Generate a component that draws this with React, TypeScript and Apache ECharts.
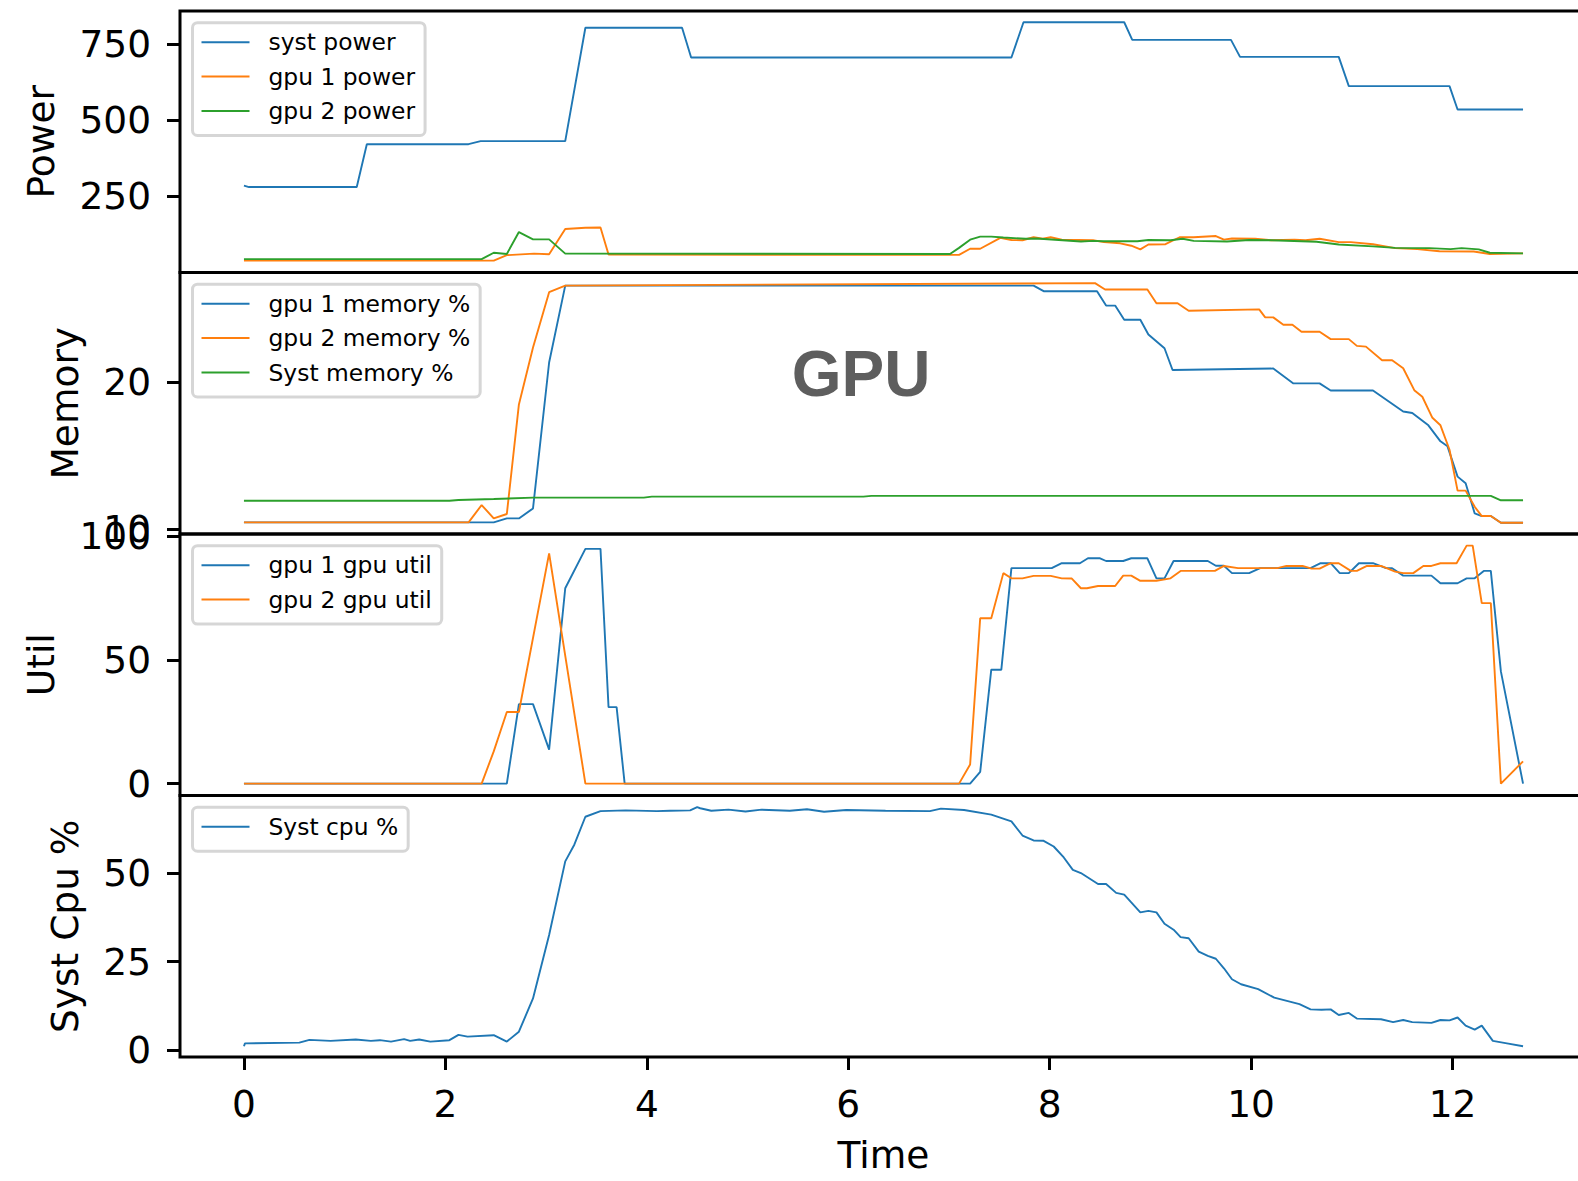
import React, { useEffect, useRef } from "react";
import * as echarts from "echarts";

// ---------- data (time in x-units, value) ----------
const timeTicks = [0, 2, 4, 6, 8, 10, 12];
const powerTicks = [250, 500, 750];
const memoryTicks = [10, 20];
const utilTicks = [0, 50, 100];
const cpuTicks = [0, 25, 50];

const systPower: [number, number][] = [
  [0, 286], [0.05, 281], [1.12, 281], [1.22, 422], [2.23, 422], [2.35, 432], [3.19, 432], [3.39, 805],
  [4.35, 805], [4.44, 707], [7.62, 707], [7.74, 823], [8.74, 823], [8.82, 765], [9.8, 765], [9.89, 709],
  [10.87, 709], [10.97, 613], [11.97, 613], [12.05, 536], [12.7, 536],
];
const gpu1Power: [number, number][] = [
  [0, 39], [2.48, 39], [2.61, 57], [2.88, 62], [3.03, 60], [3.19, 143], [3.39, 147], [3.54, 148], [3.62, 59],
  [7.1, 58], [7.21, 78], [7.31, 78], [7.51, 114], [7.62, 107], [7.73, 106], [7.84, 116], [7.93, 111], [8.01, 116],
  [8.12, 108], [8.43, 106], [8.54, 100], [8.7, 96], [8.81, 88], [8.9, 76], [8.98, 92], [9.15, 93], [9.29, 116],
  [9.43, 116], [9.65, 120], [9.73, 108], [9.81, 112], [10.04, 111], [10.2, 106], [10.43, 108], [10.54, 106],
  [10.68, 111], [10.87, 100], [10.99, 100], [11.21, 93], [11.43, 80], [11.65, 77], [11.87, 70], [12.21, 69],
  [12.37, 61], [12.7, 63],
];
const gpu2Power: [number, number][] = [
  [0, 44], [2.36, 44], [2.48, 65], [2.61, 61], [2.73, 133], [2.87, 109], [3.03, 109], [3.19, 62], [7.01, 61],
  [7.1, 81], [7.21, 108], [7.31, 118], [7.42, 118], [7.54, 115], [7.76, 111], [7.87, 112], [8.09, 107],
  [8.31, 102], [8.43, 104], [8.54, 103], [8.87, 103], [8.98, 107], [9.2, 106], [9.32, 111], [9.43, 104],
  [9.76, 102], [9.98, 107], [10.2, 106], [10.65, 101], [10.87, 92], [11.21, 86], [11.43, 81], [11.77, 80],
  [11.98, 77], [12.09, 80], [12.26, 76], [12.37, 65], [12.7, 63],
];

const gpu1Memory: [number, number][] = [
  [0, 10.46], [2.48, 10.46], [2.61, 10.73], [2.73, 10.73], [2.87, 11.41], [3.03, 21.33], [3.19, 26.56],
  [7.84, 26.56], [7.94, 26.18], [8.47, 26.18], [8.56, 25.2], [8.65, 25.2], [8.74, 24.24], [8.9, 24.24],
  [8.98, 23.24], [9.14, 22.3], [9.22, 20.82], [10.22, 20.92], [10.42, 19.91], [10.68, 19.91], [10.79, 19.43],
  [11.21, 19.43], [11.51, 18.0], [11.6, 17.9], [11.76, 17.06], [11.88, 15.97], [11.95, 15.63], [12.05, 13.57],
  [12.13, 13.12], [12.22, 11.07], [12.29, 10.89], [12.38, 10.89], [12.48, 10.43], [12.7, 10.43],
];
const gpu2Memory: [number, number][] = [
  [0, 10.46], [2.23, 10.46], [2.36, 11.64], [2.48, 10.73], [2.61, 11.03], [2.73, 18.48], [2.87, 22.35],
  [3.03, 26.11], [3.19, 26.56], [8.45, 26.73], [8.55, 26.29], [8.97, 26.29], [9.06, 25.36], [9.27, 25.36],
  [9.38, 24.85], [10.08, 24.94], [10.14, 24.4], [10.22, 24.4], [10.32, 23.9], [10.41, 23.9], [10.5, 23.42],
  [10.68, 23.42], [10.79, 22.92], [10.97, 22.92], [11.05, 22.46], [11.14, 22.41], [11.3, 21.48], [11.4, 21.48],
  [11.51, 20.94], [11.62, 19.45], [11.7, 19.0], [11.8, 17.57], [11.88, 17.06], [11.97, 15.4], [12.05, 12.62],
  [12.13, 12.62], [12.22, 11.52], [12.29, 10.89], [12.38, 10.89], [12.48, 10.43], [12.7, 10.43],
];
const systMemory: [number, number][] = [
  [0, 11.93], [2.04, 11.93], [2.13, 11.98], [2.48, 12.05], [2.87, 12.14], [3.97, 12.14], [4.05, 12.21],
  [6.15, 12.21], [6.23, 12.26], [12.38, 12.26], [12.48, 11.96], [12.7, 11.96],
];

const gpu1Util: [number, number][] = [
  [0, 0], [2.61, 0], [2.73, 32.1], [2.87, 32.1], [3.03, 13.7], [3.19, 78.9], [3.39, 94.8], [3.54, 94.8],
  [3.62, 30.9], [3.7, 30.9], [3.78, 0], [7.21, 0], [7.31, 4.7], [7.42, 46.0], [7.52, 46.0], [7.62, 87.0],
  [8.02, 87.0], [8.12, 89.0], [8.3, 89.0], [8.38, 91.0], [8.5, 91.0], [8.56, 89.9], [8.73, 89.9], [8.81, 91.0],
  [8.97, 91.0], [9.06, 82.9], [9.14, 82.9], [9.23, 89.9], [9.57, 89.9], [9.65, 88.0], [9.73, 88.0], [9.81, 85.0],
  [9.98, 85.0], [10.09, 87.0], [10.59, 87.0], [10.69, 89.0], [10.79, 89.0], [10.88, 85.0], [10.97, 85.0],
  [11.07, 89.0], [11.21, 89.0], [11.34, 87.0], [11.4, 87.0], [11.51, 84.0], [11.79, 84.0], [11.88, 80.9],
  [12.05, 80.9], [12.14, 82.9], [12.22, 82.9], [12.31, 85.9], [12.38, 85.9], [12.48, 45.3], [12.7, 0],
];
const gpu2Util: [number, number][] = [
  [0, 0], [2.36, 0], [2.48, 13.0], [2.61, 28.9], [2.73, 28.9], [3.03, 93.0], [3.39, 0], [7.1, 0], [7.21, 7.7],
  [7.31, 66.8], [7.42, 66.8], [7.54, 85.0], [7.62, 82.9], [7.73, 82.9], [7.84, 83.9], [8.01, 83.9], [8.12, 82.9],
  [8.22, 82.8], [8.31, 78.9], [8.37, 78.9], [8.48, 79.8], [8.65, 79.8], [8.73, 84.0], [8.81, 84.0], [8.9, 81.9],
  [9.06, 81.9], [9.2, 82.9], [9.3, 85.9], [9.64, 85.9], [9.73, 87.9], [9.87, 87.0], [10.26, 87.0], [10.35, 87.9],
  [10.51, 87.9], [10.6, 86.8], [10.68, 86.8], [10.79, 89.0], [10.87, 89.0], [10.99, 85.9], [11.05, 85.9],
  [11.15, 87.9], [11.29, 87.9], [11.43, 85.6], [11.51, 85.0], [11.61, 85.0], [11.71, 87.9], [11.79, 87.9],
  [11.88, 89.0], [12.04, 89.0], [12.14, 96.1], [12.2, 96.1], [12.29, 72.9], [12.38, 72.9], [12.48, 0], [12.7, 9.0],
];

const systCpu: [number, number][] = [
  [0, 1.1], [0.01, 1.9], [0.55, 2.1], [0.65, 2.9], [0.86, 2.6], [1.11, 3.0], [1.26, 2.6], [1.35, 2.8],
  [1.46, 2.4], [1.59, 3.1], [1.65, 2.6], [1.74, 3.0], [1.85, 2.4], [2.04, 2.8], [2.13, 4.3], [2.22, 3.8],
  [2.48, 4.2], [2.61, 2.4], [2.73, 5.2], [2.87, 14.6], [3.03, 32.5], [3.19, 53.3], [3.28, 58.0], [3.39, 65.9],
  [3.54, 67.5], [3.79, 67.7], [4.1, 67.5], [4.23, 67.6], [4.43, 67.7], [4.5, 68.6], [4.53, 68.3], [4.64, 67.6],
  [4.81, 67.9], [4.98, 67.4], [5.14, 67.9], [5.42, 67.6], [5.59, 68.0], [5.76, 67.3], [5.98, 67.8], [6.37, 67.6],
  [6.81, 67.5], [6.92, 68.2], [7.15, 67.8], [7.42, 66.5], [7.62, 64.6], [7.73, 60.6], [7.84, 59.2], [7.94, 59.1],
  [8.04, 57.5], [8.14, 54.4], [8.23, 50.9], [8.31, 50.0], [8.48, 46.9], [8.56, 46.9], [8.66, 44.4], [8.74, 43.9],
  [8.81, 41.7], [8.9, 38.9], [8.98, 39.3], [9.06, 38.9], [9.14, 35.7], [9.23, 34.0], [9.3, 31.9], [9.38, 31.6],
  [9.48, 27.8], [9.57, 26.6], [9.65, 25.8], [9.73, 23.1], [9.81, 20.0], [9.9, 18.6], [10.07, 17.2], [10.23, 14.8],
  [10.48, 13.0], [10.59, 11.5], [10.7, 11.4], [10.79, 11.5], [10.87, 9.9], [10.97, 10.5], [11.05, 8.9],
  [11.29, 8.7], [11.41, 7.9], [11.51, 8.5], [11.6, 7.9], [11.79, 7.7], [11.88, 8.5], [11.97, 8.4], [12.05, 9.2],
  [12.13, 6.9], [12.22, 5.8], [12.29, 6.9], [12.4, 2.6], [12.54, 1.9], [12.7, 1.1],
];

// ---------- styling / layout ----------
const FONT = "DejaVu Sans";
const C_BLUE = "#1f77b4";
const C_ORANGE = "#ff7f0e";
const C_GREEN = "#2ca02c";

const panelTops = [11, 272.5, 534, 795.5];
const panelH = 261.5;
const gridLeft = 180;
const gridWidth = 1407;
const X_MIN = -0.635;
const X_MAX = 13.335;

type Panel = {
  title: string;
  nameGap: number;
  min: number;
  max: number;
  ticks: number[];
  series: { name: string; data: [number, number][]; color: string }[];
};

const panels: Panel[] = [
  {
    title: "Power", nameGap: 120, min: 0, max: 860, ticks: powerTicks,
    series: [
      { name: "syst power", data: systPower, color: C_BLUE },
      { name: "gpu 1 power", data: gpu1Power, color: C_ORANGE },
      { name: "gpu 2 power", data: gpu2Power, color: C_GREEN },
    ],
  },
  {
    title: "Memory", nameGap: 96, min: 9.67, max: 27.45, ticks: memoryTicks,
    series: [
      { name: "gpu 1 memory %", data: gpu1Memory, color: C_BLUE },
      { name: "gpu 2 memory %", data: gpu2Memory, color: C_ORANGE },
      { name: "Syst memory %", data: systMemory, color: C_GREEN },
    ],
  },
  {
    title: "Util", nameGap: 120, min: -4.8, max: 100.8, ticks: utilTicks,
    series: [
      { name: "gpu 1 gpu util", data: gpu1Util, color: C_BLUE },
      { name: "gpu 2 gpu util", data: gpu2Util, color: C_ORANGE },
    ],
  },
  {
    title: "Syst Cpu %", nameGap: 96, min: -1.95, max: 71.9, ticks: cpuTicks,
    series: [{ name: "Syst cpu %", data: systCpu, color: C_BLUE }],
  },
];

function buildOption(): echarts.EChartsOption {
  const last = panels.length - 1;
  const grid = panels.map((_, i) => ({
    left: gridLeft,
    top: panelTops[i],
    width: gridWidth,
    height: panelH,
    show: true,
    borderColor: "#000",
    borderWidth: 3,
    backgroundColor: "transparent",
  }));
  const xAxis = panels.map((_, i) => ({
    gridIndex: i,
    type: "value" as const,
    position: "bottom" as const,
    min: X_MIN,
    max: X_MAX,
    axisLine: { show: false, onZero: false },
    splitLine: { show: false },
    axisTick:
      i === last
        ? { show: true, length: 13, lineStyle: { color: "#000", width: 3 }, customValues: timeTicks }
        : { show: false },
    axisLabel:
      i === last
        ? { show: true, margin: 28, fontSize: 37.5, fontFamily: FONT, color: "#000", customValues: timeTicks }
        : { show: false },
    name: i === last ? "Time" : "",
    nameLocation: "middle" as const,
    nameGap: 79,
    nameTextStyle: { fontSize: 37.5, fontFamily: FONT, color: "#000" },
  }));
  const yAxis = panels.map((p, i) => ({
    gridIndex: i,
    type: "value" as const,
    position: "left" as const,
    min: p.min,
    max: p.max,
    axisLine: { show: false, onZero: false },
    splitLine: { show: false },
    axisTick: { show: true, length: 13, lineStyle: { color: "#000", width: 3 }, customValues: p.ticks },
    axisLabel: { show: true, margin: 29, fontSize: 37.5, fontFamily: FONT, color: "#000", customValues: p.ticks },
    name: p.title,
    nameLocation: "middle" as const,
    nameRotate: 90,
    nameGap: p.nameGap,
    nameTextStyle: { fontSize: 37.5, fontFamily: FONT, color: "#000" },
  }));
  const legend = panels.map((p, i) => ({
    data: p.series.map((s) => s.name),
    orient: "vertical" as const,
    left: 192.5,
    top: panelTops[i] + 11.7,
    icon: "rect",
    itemWidth: 48,
    itemHeight: 2,
    itemGap: 11.4,
    padding: [8, 10, 13, 9],
    backgroundColor: "rgba(255,255,255,0.8)",
    borderColor: "rgba(204,204,204,0.8)",
    borderWidth: 3,
    borderRadius: 5,
    selectedMode: false,
    itemStyle: { borderWidth: 0 },
    textStyle: { fontFamily: FONT, fontSize: 23.4, color: "#000", lineHeight: 21, padding: [0, 0, 0, 14] },
  }));
  const series: any[] = [];
  panels.forEach((p, i) => {
    p.series.forEach((s) => {
      series.push({
        type: "line",
        name: s.name,
        xAxisIndex: i,
        yAxisIndex: i,
        data: s.data,
        showSymbol: false,
        symbol: "none",
        color: s.color,
        itemStyle: { color: s.color },
        lineStyle: { width: 1.9, color: s.color },
        emphasis: { disabled: true },
        silent: true,
      });
    });
  });
  return {
    animation: false,
    backgroundColor: "#fff",
    textStyle: { fontFamily: FONT },
    grid,
    xAxis,
    yAxis,
    legend,
    series,
    graphic: [
      {
        type: "text",
        x: 861,
        y: 374,
        style: {
          text: "GPU",
          fontFamily: "Liberation Sans",
          fontWeight: "bold",
          fontSize: 64,
          fill: "#5e5e5e",
          align: "center",
          verticalAlign: "middle",
        },
        z: 10,
      },
    ],
  } as echarts.EChartsOption;
}

export default function App() {
  const ref = useRef<HTMLDivElement>(null);
  useEffect(() => {
    document.documentElement.style.overflow = "hidden";
    document.body.style.margin = "0";
    document.body.style.overflow = "hidden";
    const chart = echarts.init(ref.current!, null, { renderer: "svg" });
    chart.setOption(buildOption());
    return () => chart.dispose();
  }, []);
  return <div ref={ref} style={{ width: 1600, height: 1181 }} />;
}
